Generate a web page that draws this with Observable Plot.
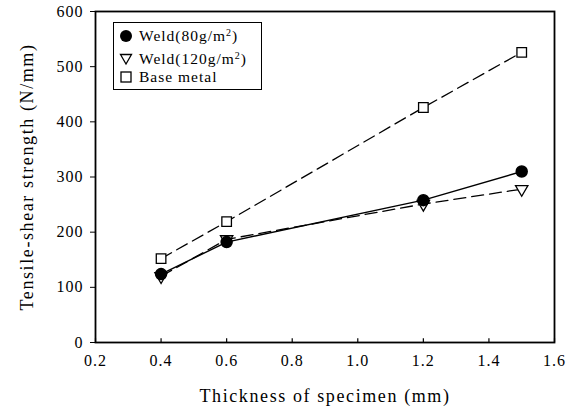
<!DOCTYPE html>
<html>
<head>
<meta charset="utf-8">
<script src="https://cdn.jsdelivr.net/npm/d3@7"></script>
<script src="https://cdn.jsdelivr.net/npm/@observablehq/plot@0.6"></script>
<style>
  html, body { margin: 0; padding: 0; background: #fff; }
  #wrap { position: relative; width: 571px; height: 409px; }
  #legend {
    position: absolute; left: 113px; top: 22px; width: 147px; height: 66px;
    border: 1px solid #000; background: #fff;
    font-family: "Liberation Serif", serif; font-size: 15.5px; letter-spacing: 1px; color: #000;
  }
  .row { position: absolute; left: 0; display: flex; align-items: center; height: 18px; white-space: nowrap; }
  .row svg { margin-left: 5px; margin-right: 6px; }
  .row sup { font-size: 10px; vertical-align: 5px; line-height: 0; }
</style>
</head>
<body>
<div id="wrap"></div>
<script>
const thickness = [0.4, 0.6, 1.2, 1.5];
const weld80 = [124, 182, 258, 310];
const weld120 = [120, 187, 251, 278];
const baseMetal = [152, 219, 426, 526];
const xTicks = [0.2, 0.4, 0.6, 0.8, 1.0, 1.2, 1.4, 1.6];
const yTicks = [0, 100, 200, 300, 400, 500, 600];
const seriesNames = ["Weld(80g/m²)", "Weld(120g/m²)", "Base metal"];
const xTitle = "Thickness of specimen (mm)";
const yTitle = "Tensile-shear strength (N/mm)";

const rows = (vals, s) => thickness.map((t, i) => ({x: t, y: vals[i], s}));
const d80 = rows(weld80, seriesNames[0]);
const d120 = rows(weld120, seriesNames[1]);
const dBase = rows(baseMetal, seriesNames[2]);

const chart = Plot.plot({
  width: 571,
  height: 409,
  marginLeft: 95,
  marginRight: 17,
  marginTop: 11,
  marginBottom: 67,
  style: {fontFamily: "Liberation Serif, serif", fontSize: "16px", color: "#000", background: "#fff", letterSpacing: "1px"},
  x: {domain: [0.2, 1.6]},
  y: {domain: [0, 600]},
  marks: [
    Plot.axisY(yTicks, {tickSize: 5, tickPadding: 7, label: null, fontSize: 16, stroke: "#000"}),
    Plot.axisX(xTicks, {tickSize: 0, tickPadding: 12, label: null, tickFormat: d3.format(".1f"), fontSize: 16}),
    Plot.ruleX(xTicks, {x: d => d, y1: 0, y2: 7, stroke: "#000", strokeWidth: 1.2}),
    Plot.frame({stroke: "#000", strokeWidth: 1.8}),
    Plot.line(dBase, {x: "x", y: "y", stroke: "#000", strokeWidth: 1.3, strokeDasharray: "12,6"}),
    Plot.line(d120, {x: "x", y: "y", stroke: "#000", strokeWidth: 1.3, strokeDasharray: "12,6"}),
    Plot.line(d80, {x: "x", y: "y", stroke: "#000", strokeWidth: 1.4}),
    Plot.dot(dBase, {x: "x", y: "y", symbol: "square", r: 5.4, fill: "#fff", stroke: "#000", strokeWidth: 1.3}),
    Plot.dot(d120, {x: "x", y: "y", symbol: "triangle", rotate: 180, r: 4.6, fill: "#fff", stroke: "#000", strokeWidth: 1.3}),
    Plot.dot(d80, {x: "x", y: "y", symbol: "circle", r: 5.5, fill: "#000", stroke: "#000"}),
    Plot.text([xTitle], {frameAnchor: "bottom", dy: 59, fontSize: 18}),
    Plot.text([yTitle], {frameAnchor: "left", textAnchor: "middle", rotate: -90, dx: -68, fontSize: 18})
  ]
});

d3.select(chart).selectAll("text").filter(function () {
  const t = this.textContent;
  return t === xTitle || t === yTitle;
}).style("letter-spacing", "1.6px");

const wrap = document.getElementById("wrap");
wrap.appendChild(chart);

const legend = document.createElement("div");
legend.id = "legend";
const sym = {
  circle: '<svg width="14" height="14"><circle cx="7" cy="7" r="6" fill="#000"/></svg>',
  tri: '<svg width="14" height="14"><path d="M1.5,2.5 L12.5,2.5 L7,12 Z" fill="#fff" stroke="#000" stroke-width="1.3"/></svg>',
  square: '<svg width="14" height="14"><rect x="2" y="2" width="10" height="10" fill="#fff" stroke="#000" stroke-width="1.3"/></svg>'
};
const labelsHtml = [
  "Weld(80g/m<sup>2</sup>)",
  "Weld(120g/m<sup>2</sup>)",
  "Base metal"
];
const keys = ["circle", "tri", "square"];
const tops = [4, 27, 45];
keys.forEach((k, i) => {
  const r = document.createElement("div");
  r.className = "row";
  r.style.top = tops[i] + "px";
  r.innerHTML = sym[k] + "<span>" + labelsHtml[i] + "</span>";
  legend.appendChild(r);
});
wrap.appendChild(legend);
</script>
</body>
</html>
